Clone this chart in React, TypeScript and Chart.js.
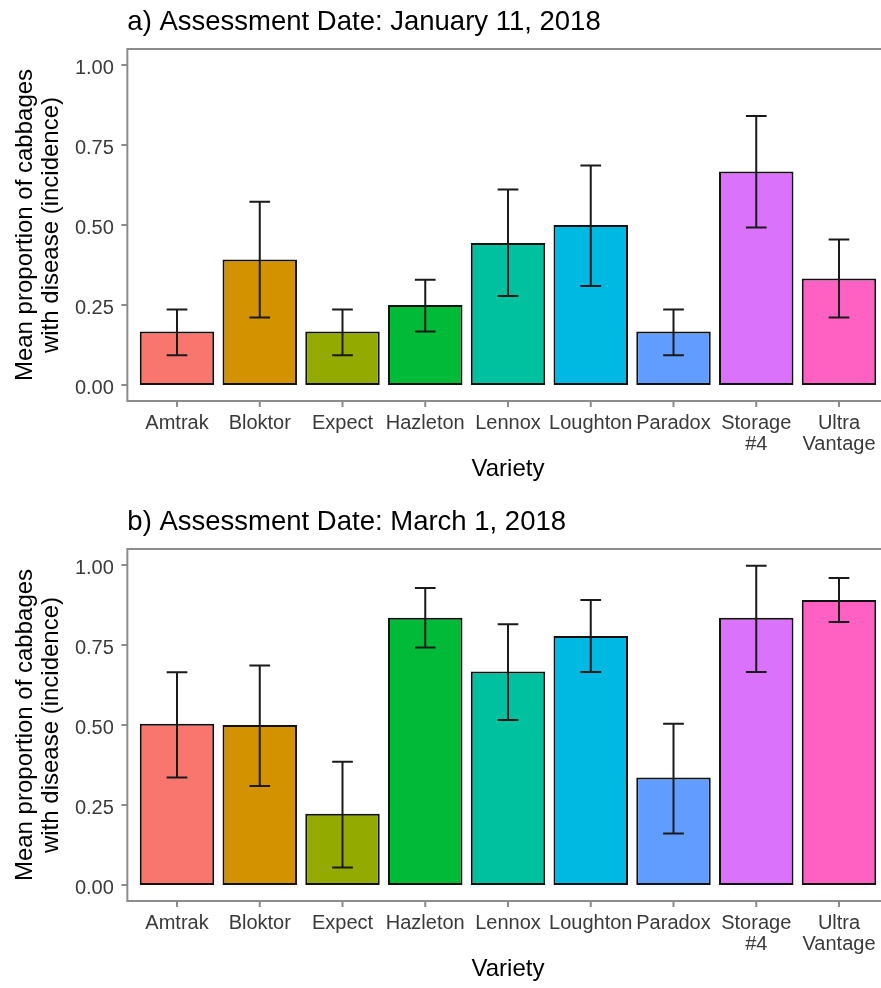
import React, { useEffect, useRef } from 'react';
import { Chart, registerables } from 'chart.js';

Chart.register(...registerables);

// ---------- data ----------
const varieties = ['Amtrak', 'Bloktor', 'Expect', 'Hazleton', 'Lennox', 'Loughton', 'Paradox', 'Storage\n#4', 'Ultra\nVantage'];
const barColors = ['#F8766D', '#D39200', '#93AA00', '#00BA38', '#00C19F', '#00B9E3', '#619CFF', '#DB72FB', '#FF61C3'];
const yTickValues = [0, 0.25, 0.5, 0.75, 1];

const titleJan = 'a) Assessment Date: January 11, 2018';
const meanJan = [0.167, 0.392, 0.167, 0.25, 0.444, 0.5, 0.167, 0.667, 0.333];
const upperJan = [0.236, 0.573, 0.236, 0.329, 0.611, 0.686, 0.236, 0.841, 0.455];
const lowerJan = [0.093, 0.211, 0.093, 0.167, 0.278, 0.309, 0.093, 0.492, 0.211];

const titleMar = 'b) Assessment Date: March 1, 2018';
const meanMar = [0.504, 0.5, 0.223, 0.835, 0.667, 0.778, 0.336, 0.835, 0.891];
const upperMar = [0.665, 0.686, 0.385, 0.928, 0.815, 0.891, 0.504, 0.998, 0.959];
const lowerMar = [0.336, 0.309, 0.055, 0.742, 0.516, 0.666, 0.161, 0.666, 0.822];

const yAxisTitle = ['Mean proportion of cabbages', 'with disease (incidence)'];
const xAxisTitle = 'Variety';

// ---------- styling ----------
const FONT = '"Liberation Sans", Arial, Helvetica, sans-serif';
const W = 900;
const H = 500;
const GRAY = '#8c8c8c';
const TICK_TEXT = '#3a3a3a';
const TICK_LEN = 6;

const errorBarPlugin = {
  id: 'errbars',
  afterDatasetsDraw(chart: any) {
    const opts = chart.options.plugins.errbars;
    const { ctx } = chart;
    const xs = chart.scales.x;
    const ys = chart.scales.y;
    ctx.save();
    ctx.strokeStyle = '#1a1a1a';
    ctx.lineWidth = 2;
    opts.lower.forEach((lo: number, i: number) => {
      const hi = opts.upper[i];
      const cx = xs.getPixelForValue(i + 1);
      const x0 = xs.getPixelForValue(i + 1 - 0.125);
      const x1 = xs.getPixelForValue(i + 1 + 0.125);
      const yl = ys.getPixelForValue(lo);
      const yh = ys.getPixelForValue(hi);
      ctx.beginPath();
      ctx.moveTo(cx, yl);
      ctx.lineTo(cx, yh);
      ctx.moveTo(x0, yh);
      ctx.lineTo(x1, yh);
      ctx.moveTo(x0, yl);
      ctx.lineTo(x1, yl);
      ctx.stroke();
    });
    ctx.restore();
  },
};

const frameTitlePlugin = {
  id: 'frameTitle',
  afterDraw(chart: any) {
    const opts = chart.options.plugins.frameTitle;
    const { ctx, chartArea } = chart;
    const xs = chart.scales.x;
    const ys = chart.scales.y;
    ctx.save();
    ctx.strokeStyle = GRAY;
    ctx.lineWidth = 2;
    ctx.strokeRect(chartArea.left, chartArea.top, chartArea.right - chartArea.left, chartArea.bottom - chartArea.top);
    // tick marks
    ctx.beginPath();
    varieties.forEach((_, i) => {
      const px = xs.getPixelForValue(i + 1);
      ctx.moveTo(px, chartArea.bottom);
      ctx.lineTo(px, chartArea.bottom + TICK_LEN);
    });
    yTickValues.forEach((v) => {
      const py = ys.getPixelForValue(v);
      ctx.moveTo(chartArea.left, py);
      ctx.lineTo(chartArea.left - TICK_LEN, py);
    });
    ctx.stroke();
    ctx.fillStyle = '#000000';
    ctx.font = `27.5px ${FONT}`;
    ctx.textAlign = 'left';
    ctx.textBaseline = 'alphabetic';
    ctx.fillText(opts.text, chartArea.left, 29.5);
    ctx.restore();
  },
};

function Panel({ title, means, lower, upper }: { title: string; means: number[]; lower: number[]; upper: number[] }) {
  const ref = useRef<HTMLCanvasElement | null>(null);
  useEffect(() => {
    if (!ref.current) return;
    const chart = new Chart(ref.current, {
      type: 'bar',
      data: {
        datasets: [
          {
            data: means.map((v, i) => ({ x: i + 1, y: v })),
            backgroundColor: barColors,
            borderColor: '#111111',
            borderWidth: 2,
            borderSkipped: false,
            categoryPercentage: 1,
            barPercentage: 0.9,
          },
        ],
      },
      options: {
        responsive: false,
        animation: false,
        layout: { padding: { left: 0, right: W - 888.65, top: 49, bottom: 0 } },
        plugins: {
          legend: { display: false },
          tooltip: { enabled: false },
          title: { display: false },
          errbars: { lower, upper },
          frameTitle: { text: title },
        } as any,
        scales: {
          x: {
            type: 'linear',
            min: 0.4,
            max: 9.6,
            offset: false,
            afterBuildTicks: (scale: any) => {
              scale.ticks = varieties.map((_, i) => ({ value: i + 1 }));
            },
            afterFit: (scale: any) => {
              scale.height = 99;
            },
            grid: { display: false, drawTicks: false, offset: false },
            border: { display: false },
            ticks: {
              autoSkip: false,
              maxRotation: 0,
              minRotation: 0,
              padding: 11.5,
              color: TICK_TEXT,
              font: { family: FONT, size: 20, lineHeight: 1.05 },
              callback: (v: any) => {
                const idx = Math.round(Number(v)) - 1;
                const lab = varieties[idx];
                if (lab === undefined) return '';
                return lab.includes('\n') ? lab.split('\n') : lab;
              },
            },
            title: {
              display: true,
              text: xAxisTitle,
              color: '#000000',
              font: { family: FONT, size: 24, lineHeight: 1.2 },
              padding: { top: 0, bottom: 16 },
            },
          },
          y: {
            type: 'linear',
            min: -0.05,
            max: 1.05,
            afterBuildTicks: (scale: any) => {
              scale.ticks = yTickValues.map((v) => ({ value: v }));
            },
            afterFit: (scale: any) => {
              scale.width = 127.35;
            },
            grid: { display: false, drawTicks: false },
            border: { display: false },
            ticks: {
              padding: 13.5,
              labelOffset: 3,
              color: TICK_TEXT,
              font: { family: FONT, size: 20 },
              callback: (v: any) => Number(v).toFixed(2),
            },
            title: {
              display: true,
              text: yAxisTitle,
              color: '#000000',
              font: { family: FONT, size: 24, lineHeight: 1.08 },
              padding: { top: 12, bottom: 0 },
            },
          },
        },
      } as any,
      plugins: [errorBarPlugin, frameTitlePlugin],
    });
    return () => chart.destroy();
  }, [title, means, lower, upper]);
  return <canvas ref={ref} width={W} height={H} style={{ display: 'block', width: W, height: H }} />;
}

export default function App() {
  return (
    <div
      style={{
        position: 'fixed',
        left: 0,
        top: 0,
        width: 881,
        height: 988,
        overflow: 'hidden',
        background: '#ffffff',
      }}
    >
      <Panel title={titleJan} means={meanJan} lower={lowerJan} upper={upperJan} />
      <Panel title={titleMar} means={meanMar} lower={lowerMar} upper={upperMar} />
    </div>
  );
}
